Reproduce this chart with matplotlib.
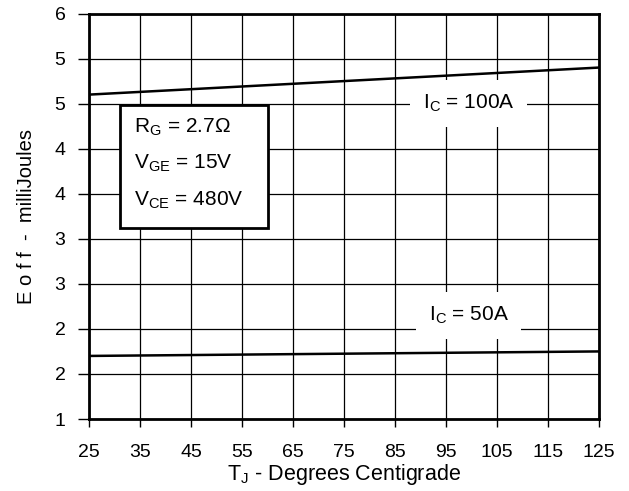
import matplotlib
matplotlib.use("Agg")
import matplotlib.pyplot as plt
import numpy as np
from matplotlib.ticker import FixedLocator, FuncFormatter

plt.rcParams['font.family'] = ['Liberation Sans', 'DejaVu Sans']
plt.rcParams['mathtext.fontset'] = 'custom'
plt.rcParams['mathtext.rm'] = 'Liberation Sans'

temps = [25, 75, 125]
eoff_100A = [5.10, 5.25, 5.40]
eoff_50A = [2.20, 2.225, 2.25]
x_ticks = [25, 35, 45, 55, 65, 75, 85, 95, 105, 115, 125]
y_ticks = [1.5, 2.0, 2.5, 3.0, 3.5, 4.0, 4.5, 5.0, 5.5, 6.0]
label_100 = r"I$_{\mathregular{C}}$ = 100A"
label_50 = r"I$_{\mathregular{C}}$ = 50A"
conditions = [r"R$_{\mathregular{G}}$ = 2.7Ω", r"V$_{\mathregular{GE}}$ = 15V", r"V$_{\mathregular{CE}}$ = 480V"]

fig = plt.figure(figsize=(6.29, 4.91), dpi=100)
ax = fig.add_axes([0.1415, 0.1466, 0.8105, 0.8259])

ax.plot(temps, eoff_100A, color='black', lw=1.8, zorder=3)
ax.plot(temps, eoff_50A, color='black', lw=1.8, zorder=3)

ax.set_xlim(25, 125)
ax.set_ylim(1.5, 6.0)
ax.xaxis.set_major_locator(FixedLocator(x_ticks))
ax.yaxis.set_major_locator(FixedLocator(y_ticks))
ax.yaxis.set_major_formatter(FuncFormatter(lambda v, p: str(int(v))))
ax.grid(True, color='black', lw=0.9, zorder=1)
ax.set_axisbelow(True)
for s in ax.spines.values():
    s.set_linewidth(2.0)
    s.set_zorder(5)
ax.tick_params(axis='both', direction='out', width=1, labelsize=14, colors='black')
ax.tick_params(axis='x', length=6, pad=12)
ax.tick_params(axis='y', length=8, pad=9)

ax.set_xlabel(r"T$_{\mathregular{J}}$ - Degrees Centigrade", fontsize=15.5, labelpad=1)
ax.set_ylabel("E o f f  -  milliJoules", fontsize=14.5, labelpad=13)

ax.text(99.5, 5.0, label_100, fontsize=15, ha='center', va='center', zorder=4,
        bbox=dict(boxstyle='square,pad=0.6', fc='white', ec='none'))
ax.text(99.5, 2.65, label_50, fontsize=15, ha='center', va='center', zorder=4,
        bbox=dict(boxstyle='square,pad=0.6', fc='white', ec='none'))

rect = plt.Rectangle((31.0, 3.62), 29.1, 1.36, fc='white', ec='black', lw=2.0, zorder=4)
ax.add_patch(rect)
for i, t in enumerate(conditions):
    ax.text(33.8, 4.74 - i * 0.405, t, fontsize=15, ha='left', va='center', zorder=5)

fig.savefig("out.png", dpi=100)
